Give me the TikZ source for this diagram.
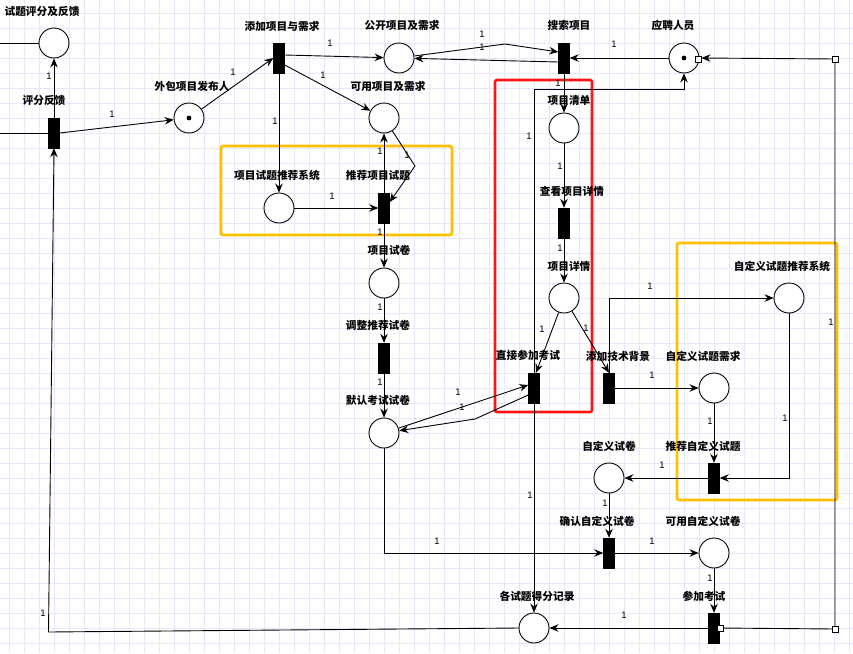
\documentclass[tikz,border=0pt]{standalone}
\usepackage{fontspec}
\setmainfont{Liberation Sans}
\newfontfamily\cjk{Noto Sans CJK SC}
\usetikzlibrary{arrows.meta,calc}

\definecolor{gridc}{RGB}{232,230,250}
\definecolor{boxyellow}{RGB}{255,192,0}
\definecolor{boxred}{RGB}{255,20,20}

\tikzset{
  place/.style={draw,circle,minimum size=30pt,inner sep=0pt,line width=0.9pt,fill=white},
  trans/.style={draw,fill=black,minimum width=11pt,minimum height=30pt,inner sep=0pt},
  lbl/.style={font=\cjk\bfseries\fontsize{10.7}{12}\selectfont,inner sep=0pt},
  wt/.style={font=\fontsize{9.5}{11}\selectfont,inner sep=0pt},
  arc/.style={line width=0.9pt,-{Stealth[length=9pt,width=7.5pt,inset=3pt]}},
  plain/.style={line width=0.9pt},
  sq/.style={draw,fill=white,minimum size=6pt,inner sep=0pt,line width=0.8pt},
  frame/.style={line width=2.6pt,rounded corners=2pt},
}

\begin{document}
\begin{tikzpicture}[x=1pt,y=-1pt]
  \useasboundingbox (0,0) rectangle (853,653);
  \fill[white] (0,0) rectangle (853,653);

  % background grid
  \foreach \gx in {9,24,...,849} \draw[gridc,line width=0.7pt] (\gx,0) -- (\gx,653);
  \foreach \gy in {13,28,...,643} \draw[gridc,line width=0.7pt] (0,\gy) -- (853,\gy);

  % grouping frames
  \draw[frame,boxyellow] (221,146) rectangle (452,235);
  \draw[frame,boxyellow] (677,243) rectangle (837,500);
  \draw[frame,boxred] (495,80) rectangle (592,412);

  % places
  \node[place] (pFeedback)  at (54,43)   {};
  \node[place] (pPublisher) at (189,118) {};
  \node[place] (pPublic)    at (399,58)  {};
  \node[place] (pAvail)     at (384,118) {};
  \node[place] (pApplicant) at (684,58)  {};
  \node[place] (pList)      at (564,128) {};
  \node[place] (pRecSys)    at (279,208) {};
  \node[place] (pPaper)     at (384,283) {};
  \node[place] (pDetail)    at (564,298) {};
  \node[place] (pCustSys)   at (789,298) {};
  \node[place] (pCustReq)   at (714,388) {};
  \node[place] (pDefault)   at (384,433) {};
  \node[place] (pCustPaper) at (609,478) {};
  \node[place] (pCustAvail) at (714,553) {};
  \node[place] (pScores)    at (534,628) {};

  % tokens
  \fill (pPublisher) circle[radius=2.4pt];
  \fill (pApplicant) circle[radius=2.4pt];

  % transitions
  \node[trans] (tScore)     at (54,133)  {};
  \node[trans] (tAdd)       at (279,58)  {};
  \node[trans] (tSearch)    at (564,58)  {};
  \node[trans] (tRecommend) at (384,208) {};
  \node[trans] (tView)      at (564,223) {};
  \node[trans] (tAdjust)    at (384,358) {};
  \node[trans] (tDirect)    at (534,388) {};
  \node[trans] (tTech)      at (609,388) {};
  \node[trans] (tRecCust)   at (714,478) {};
  \node[trans] (tConfirm)   at (609,553) {};
  \node[trans] (tExam)      at (714,628) {};

  % names
  \node[lbl] (nFeedback)  at (42,11)   {试题评分及反馈};
  \node[lbl] (nScore)     at (44,100)  {评分反馈};
  \node[lbl] (nPublisher) at (192,86)  {外包项目发布人};
  \node[lbl] (nAdd)       at (282,26)  {添加项目与需求};
  \node[lbl] (nPublic)    at (402,25)  {公开项目及需求};
  \node[lbl] (nAvail)     at (388,86)  {可用项目及需求};
  \node[lbl] (nSearch)    at (569,25)  {搜索项目};
  \node[lbl] (nApplicant) at (673,25)  {应聘人员};
  \node[lbl] (nList)      at (569,100) {项目清单};
  \node[lbl] (nRecSys)    at (277,175) {项目试题推荐系统};
  \node[lbl] (nRecommend) at (378,175) {推荐项目试题};
  \node[lbl] (nPaper)     at (389,250) {项目试卷};
  \node[lbl] (nView)      at (572,191) {查看项目详情};
  \node[lbl] (nDetail)    at (569,266) {项目详情};
  \node[lbl] (nCustSys)   at (782,266) {自定义试题推荐系统};
  \node[lbl] (nAdjust)    at (378,325) {调整推荐试卷};
  \node[lbl] (nDefault)   at (378,400) {默认考试试卷};
  \node[lbl] (nDirect)    at (528,355) {直接参加考试};
  \node[lbl] (nTech)      at (618,356) {添加技术背景};
  \node[lbl] (nCustReq)   at (703,356) {自定义试题需求};
  \node[lbl] (nCustPaper) at (609,446) {自定义试卷};
  \node[lbl] (nRecCust)   at (703,446) {推荐自定义试题};
  \node[lbl] (nConfirm)   at (597,521) {确认自定义试卷};
  \node[lbl] (nCustAvail) at (703,521) {可用自定义试卷};
  \node[lbl] (nScores)    at (537,596) {各试题得分记录};
  \node[lbl] (nExam)      at (704,596) {参加考试};

  % waypoints
  \coordinate (inFeedback) at (0,43);
  \coordinate (inScore)    at (0,133);
  \coordinate (bendPub)    at (505,44);
  \coordinate (bendAvail)  at (415,166);
  \coordinate (bendDef)    at (475,419);
  \coordinate (upDirect)   at (534,89);
  \coordinate (overDirect) at (684,89);
  \coordinate (upTech)     at (609,298);
  \coordinate (downCust)   at (789,478);
  \coordinate (downDef)    at (384,553);
  \coordinate (cornerBL)   at (48.5,632);
  \coordinate (cornerBR)   at (835,629);
  \coordinate (cornerTR)   at (835,59);

  % connectors
  \draw[plain] (inFeedback) -- (pFeedback.west);
  \draw[plain] (inScore) -- (tScore.west);
  \draw[arc] (tScore.north) -- (pFeedback.south);
  \draw[arc] (tScore.east) -- (pPublisher);
  \draw[arc] (pPublisher) -- (tAdd.west);
  \draw[arc] ($(tAdd.east)+(0,-3)$) -- (pPublic);
  \draw[arc] ($(tAdd.east)+(0,7)$) -- (pAvail);
  \draw[arc] (tAdd.south) -- (pRecSys.north);
  \draw[arc] (pPublic) -- (bendPub) -- ($(tSearch.west)+(0,-6)$);
  \draw[arc] ($(tSearch.west)+(0,4)$) -- (pPublic);
  \draw[arc] (pApplicant.west) -- (tSearch.east);
  \draw[arc] (tSearch.south) -- (pList.north);
  \draw[arc] (pList.south) -- (tView.north);
  \draw[arc] (tView.south) -- (pDetail.north);
  \draw[arc] (pDetail) -- ($(tDirect.north)+(2,0)$);
  \draw[arc] (pDetail) -- (tTech.north);
  \draw[arc] (tTech.north) -- (upTech) -- (pCustSys.west);
  \draw[arc] (tTech.east) -- (pCustReq.west);
  \draw[arc] (pCustReq.south) -- (tRecCust.north);
  \draw[arc] (pCustSys.south) -- (downCust) -- (tRecCust.east);
  \draw[arc] (tRecCust.west) -- (pCustPaper.east);
  \draw[arc] (pCustPaper.south) -- (tConfirm.north);
  \draw[arc] (pDefault.south) -- (downDef) -- (tConfirm.west);
  \draw[arc] (tConfirm.east) -- (pCustAvail.west);
  \draw[arc] (pCustAvail.south) -- (tExam.north);
  \draw[arc] (tExam.west) -- (pScores.east);
  \draw[arc] (tExam.east) -- (cornerBR) -- (cornerTR) -- ($(pApplicant.east)+(2,0)$);
  \draw[arc] (pScores.west) -- (cornerBL) -- (tScore.south);
  \draw[arc] (tDirect.south) -- (pScores.north);
  \draw[arc] (tDirect.north) -- (upDirect) -- (overDirect) -- (pApplicant.south);
  \draw[arc] (pDefault) -- ($(tDirect.west)+(0,-3)$);
  \draw[arc] ($(tDirect.west)+(0,7)$) -- (bendDef) -- (pDefault);
  \draw[arc] (pAvail) -- (bendAvail) -- ($(tRecommend.east)+(0,-6)$);
  \draw[arc] (tRecommend.north) -- (pAvail.south);
  \draw[arc] (pRecSys.east) -- (tRecommend.west);
  \draw[arc] (tRecommend.south) -- (pPaper.north);
  \draw[arc] (pPaper.south) -- (tAdjust.north);
  \draw[arc] (tAdjust.south) -- (pDefault.north);

  % connector end markers
  \node[sq] (sqApplicant) at (698,59)  {};
  \node[sq] (sqTR)        at (835,59)  {};
  \node[sq] (sqExam)      at (720,628) {};
  \node[sq] (sqBR)        at (835,629) {};

  % arc weights
  \node[wt] (w01) at (49,76)   {1};
  \node[wt] (w02) at (112,114) {1};
  \node[wt] (w03) at (233,72)  {1};
  \node[wt] (w04) at (275,121) {1};
  \node[wt] (w05) at (330,43)  {1};
  \node[wt] (w06) at (323,75)  {1};
  \node[wt] (w07) at (482,34)  {1};
  \node[wt] (w08) at (482,47)  {1};
  \node[wt] (w09) at (614,44)  {1};
  \node[wt] (w10) at (558,83)  {1};
  \node[wt] (w11) at (529,136) {1};
  \node[wt] (w12) at (380,151) {1};
  \node[wt] (w13) at (407,155) {1};
  \node[wt] (w14) at (332,196) {1};
  \node[wt] (w15) at (380,232) {1};
  \node[wt] (w16) at (380,307) {1};
  \node[wt] (w17) at (560,166) {1};
  \node[wt] (w18) at (560,248) {1};
  \node[wt] (w19) at (542,329) {1};
  \node[wt] (w20) at (586,328) {1};
  \node[wt] (w21) at (650,286) {1};
  \node[wt] (w22) at (831,322) {1};
  \node[wt] (w23) at (380,382) {1};
  \node[wt] (w24) at (458,392) {1};
  \node[wt] (w25) at (462,407) {1};
  \node[wt] (w26) at (652,375) {1};
  \node[wt] (w27) at (710,421) {1};
  \node[wt] (w28) at (785,418) {1};
  \node[wt] (w29) at (662,465) {1};
  \node[wt] (w30) at (605,503) {1};
  \node[wt] (w31) at (530,495) {1};
  \node[wt] (w32) at (437,541) {1};
  \node[wt] (w33) at (652,541) {1};
  \node[wt] (w34) at (710,578) {1};
  \node[wt] (w35) at (624,615) {1};
  \node[wt] (w36) at (43,613)  {1};
\end{tikzpicture}
\end{document}
